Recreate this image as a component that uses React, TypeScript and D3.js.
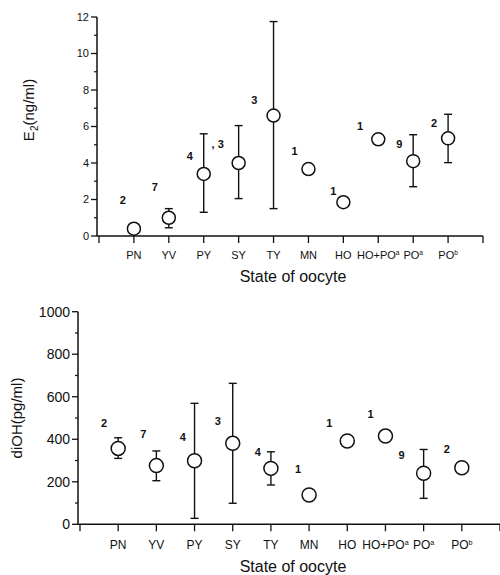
import React, { useEffect, useRef } from "react";
import * as d3 from "d3";

// state of oocyte categories (superscripts kept separately)
const categories = ["PN", "YV", "PY", "SY", "TY", "MN", "HO", "HO+PO", "PO", "PO"];
const superscripts = ["", "", "", "", "", "", "", "a", "a", "b"];

// E2 (ng/ml)
const e2Mean = [0.4, 1.0, 3.4, 4.0, 6.6, 3.67, 1.85, 5.3, 4.1, 5.35];
const e2Upper = [null, 1.5, 5.6, 6.05, 11.75, null, null, null, 5.55, 6.67];
const e2Lower = [null, 0.45, 1.3, 2.05, 1.5, null, null, null, 2.7, 4.02];
const e2N = ["2", "7", "4", ", 3", "3", "1", "1", "1", "9", "2"];
const e2NX = [0.68, 1.6, 2.6, 3.4, 4.45, 5.6, 6.71, 7.48, 8.6, 9.6];
const e2NY = [1.97, 2.68, 4.38, 5.04, 7.45, 4.66, 2.47, 6.03, 5.04, 6.19];

// diOH (pg/ml)
const diohMean = [357, 276, 299, 381, 263, 138, 392, 415, 240, 266];
const diohUpper = [407, 345, 569, 663, 341, null, null, null, 352, null];
const diohLower = [310, 205, 28, 99, 185, null, null, null, 122, null];
const diohN = ["2", "7", "4", "3", "4", "1", "1", "1", "9", "2"];
const diohNX = [0.63, 1.66, 2.69, 3.61, 4.66, 5.71, 6.53, 7.61, 8.42, 9.61];
const diohNY = [475, 425, 412, 486, 341, 260, 475, 519, 326, 353];

const e2Ticks = [0, 2, 4, 6, 8, 10, 12];
const diohTicks = [0, 200, 400, 600, 800, 1000];

const FONT = "'Liberation Sans', Arial, Helvetica, sans-serif";

type Panel = {
  x0: number; x1: number; yTop: number; yBottom: number;
  yMax: number; ticks: number[]; minorStep: number;
  mean: number[]; upper: (number | null)[]; lower: (number | null)[];
  n: string[]; nx: number[]; ny: number[];
  tickFont: number; catFont: number; catY: number; titleY: number;
  yLabel: string; yLabelX: number; yLabelY: number; r: number; sub?: boolean;
};

function drawPanel(svg: d3.Selection<SVGSVGElement, unknown, null, undefined>, p: Panel) {
  const x = d3.scaleLinear().domain([0, 11]).range([p.x0, p.x1]);
  const y = d3.scaleLinear().domain([0, p.yMax]).range([p.yBottom, p.yTop]);
  const g = svg.append("g").attr("stroke", "#111").attr("fill", "none");

  // y axis
  g.append("line").attr("x1", p.x0 - 2).attr("x2", p.x0 - 2)
    .attr("y1", y(p.yMax)).attr("y2", y(0)).attr("stroke-width", 1.5);
  g.selectAll(".ymaj").data(p.ticks).enter().append("line")
    .attr("x1", p.x0 - 8).attr("x2", p.x0 - 2)
    .attr("y1", (d) => y(d)).attr("y2", (d) => y(d)).attr("stroke-width", 1.3);
  const minors = d3.range(p.minorStep, p.yMax, p.minorStep * 2);
  g.selectAll(".ymin").data(minors).enter().append("line")
    .attr("x1", p.x0 - 5).attr("x2", p.x0 - 2)
    .attr("y1", (d) => y(d)).attr("y2", (d) => y(d)).attr("stroke-width", 1.2);
  svg.selectAll(null).data(p.ticks).enter().append("text")
    .attr("x", p.x0 - 10).attr("y", (d) => y(d)).attr("dy", "0.35em")
    .attr("text-anchor", "end").attr("font-family", FONT).attr("font-size", p.tickFont)
    .attr("fill", "#111").text((d) => d);

  // x axis
  g.append("line").attr("x1", p.x0 - 2).attr("x2", p.x1)
    .attr("y1", y(0)).attr("y2", y(0)).attr("stroke-width", 1.5);
  g.selectAll(".xt").data(d3.range(0, 12)).enter().append("line")
    .attr("x1", (d) => x(d)).attr("x2", (d) => x(d))
    .attr("y1", y(0)).attr("y2", y(0) + 7).attr("stroke-width", 1.3);

  const cat = svg.selectAll(null).data(categories).enter().append("text")
    .attr("x", (_, i) => x(i + 1)).attr("y", p.catY)
    .attr("text-anchor", "middle").attr("font-family", FONT).attr("font-size", p.catFont)
    .attr("fill", "#111");
  cat.append("tspan").text((d) => d);
  cat.append("tspan").attr("dy", -4).attr("font-size", p.catFont * 0.6)
    .text((_, i) => superscripts[i]);

  svg.append("text").attr("x", 293).attr("y", p.titleY).attr("text-anchor", "middle")
    .attr("font-family", FONT).attr("font-size", 16).attr("fill", "#111")
    .text("State of oocyte");

  const yl = svg.append("text")
    .attr("transform", `translate(${p.yLabelX},${p.yLabelY}) rotate(-90)`)
    .attr("text-anchor", "middle").attr("font-family", FONT).attr("font-size", 15)
    .attr("fill", "#111");
  if (p.sub) {
    yl.append("tspan").text("E");
    yl.append("tspan").attr("dy", 4).attr("font-size", 10).text("2");
    yl.append("tspan").attr("dy", -4).text(p.yLabel);
  } else {
    yl.text(p.yLabel);
  }

  // error bars
  const idx = d3.range(p.mean.length).filter((i) => p.upper[i] !== null);
  g.selectAll(".eb").data(idx).enter().append("line")
    .attr("x1", (i) => x(i + 1)).attr("x2", (i) => x(i + 1))
    .attr("y1", (i) => y(p.upper[i] as number)).attr("y2", (i) => y(p.lower[i] as number))
    .attr("stroke-width", 1.4);
  ["upper", "lower"].forEach((k) => {
    const arr = k === "upper" ? p.upper : p.lower;
    g.selectAll(".cap" + k).data(idx).enter().append("line")
      .attr("x1", (i) => x(i + 1) - 4).attr("x2", (i) => x(i + 1) + 4)
      .attr("y1", (i) => y(arr[i] as number)).attr("y2", (i) => y(arr[i] as number))
      .attr("stroke-width", 1.4);
  });

  // means
  g.selectAll(".pt").data(p.mean).enter().append("circle")
    .attr("cx", (_, i) => x(i + 1)).attr("cy", (d) => y(d)).attr("r", p.r)
    .attr("fill", "#fff").attr("stroke-width", 1.5);

  // sample sizes
  svg.selectAll(null).data(p.n).enter().append("text")
    .attr("x", (_, i) => x(p.nx[i])).attr("y", (_, i) => y(p.ny[i])).attr("dy", "0.35em")
    .attr("text-anchor", "middle").attr("font-family", FONT).attr("font-size", 11)
    .attr("font-weight", "bold").attr("fill", "#111").text((d) => d);
}

export default function App() {
  const ref = useRef<SVGSVGElement>(null);

  useEffect(() => {
    const svg = d3.select(ref.current!);
    svg.selectAll("*").remove();

    drawPanel(svg, {
      x0: 99, x1: 483, yTop: 17, yBottom: 236, yMax: 12, ticks: e2Ticks, minorStep: 1,
      mean: e2Mean, upper: e2Upper, lower: e2Lower, n: e2N, nx: e2NX, ny: e2NY,
      tickFont: 11, catFont: 11, catY: 259, titleY: 282,
      yLabel: "(ng/ml)", yLabelX: 34, yLabelY: 110, r: 6.5, sub: true,
    });

    drawPanel(svg, {
      x0: 80, x1: 500, yTop: 311.7, yBottom: 524.3, yMax: 1000, ticks: diohTicks, minorStep: 100,
      mean: diohMean, upper: diohUpper, lower: diohLower, n: diohN, nx: diohNX, ny: diohNY,
      tickFont: 14, catFont: 12, catY: 549, titleY: 572,
      yLabel: "diOH(pg/ml)", yLabelX: 22, yLabelY: 418, r: 7,
    });
  }, []);

  return (
    <svg ref={ref} width={500} height={575}
      style={{ position: "absolute", left: 0, top: 0, background: "#fff" }} />
  );
}
